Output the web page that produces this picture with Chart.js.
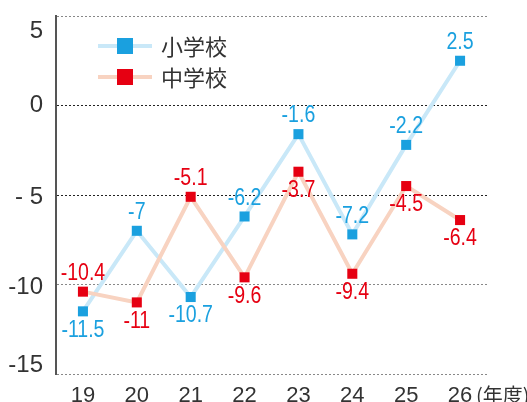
<!DOCTYPE html>
<html>
<head>
<meta charset="utf-8">
<script src="https://cdn.jsdelivr.net/npm/chart.js@4"></script>
<style>
  html, body { margin: 0; padding: 0; background: #fff; }
  #wrap { width: 527px; height: 402px; }
</style>
</head>
<body>
<div id="wrap"><canvas id="chart"></canvas></div>
<script>
const years = ["19", "20", "21", "22", "23", "24", "25", "26"];
const elementary = [-11.5, -7, -10.7, -6.2, -1.6, -7.2, -2.2, 2.5];
const juniorHigh = [-10.4, -11, -5.1, -9.6, -3.7, -9.4, -4.5, -6.4];
const yTicks = [5, 0, -5, -10, -15];
const yTickLabels = ["5", "0", "- 5", "-10", "-15"];
const seriesNames = ["小学校", "中学校"];
const unitLabel = "(年度)";

const SANS = "'Liberation Sans', Arial, sans-serif";
const CJK = "'Noto Sans CJK JP', sans-serif";

const blueLine = '#c9e8f8', blueMark = '#1aa0df';
const redLine = '#f8d3c1', redMark = '#e60012';

// which side of the marker each value label sits on, per series name
const labelSide = {
    '小学校': ['below', 'above', 'below', 'above', 'above', 'above', 'above', 'above'],
    '中学校': ['above', 'below', 'above', 'below', 'below', 'below', 'below', 'below']
};
// vertical nudge of the y tick labels (the original isn't quite aligned)
const yLabelNudge = { 5: 15, 0: 0, '-5': 2, '-10': 3, '-15': -9 };

const ctx = document.getElementById('chart').getContext('2d');

// narrow text: the original uses a condensed face
function narrowText(c, txt, x, y, sx) {
    c.save();
    c.translate(x, y);
    c.scale(sx, 1);
    c.fillText(txt, 0, 0);
    c.restore();
}

const extras = {
    id: 'extras',
    afterDatasetsDraw(chart) {
        const c = chart.ctx;
        c.save();
        // value labels
        chart.data.datasets.forEach((ds, di) => {
            const meta = chart.getDatasetMeta(di);
            const sides = labelSide[ds.label];
            meta.data.forEach((pt, i) => {
                const dy = sides[i] === 'above' ? -18 : 19;
                c.font = '23px ' + SANS;
                c.fillStyle = ds.pointBackgroundColor;
                c.textAlign = 'center';
                c.textBaseline = 'middle';
                narrowText(c, String(ds.data[i]), pt.x, pt.y + dy, 0.85);
            });
        });
        // y tick labels
        const y = chart.scales.y;
        c.font = '24px ' + SANS;
        c.fillStyle = '#333';
        c.textAlign = 'right';
        c.textBaseline = 'middle';
        yTicks.forEach((t, i) => {
            c.fillText(yTickLabels[i], 43, y.getPixelForValue(t) + (yLabelNudge[t] || 0));
        });
        // unit
        c.font = '20px ' + CJK;
        c.textAlign = 'left';
        c.fillText(unitLabel, 476, 395);
        // legend
        const items = [[blueLine, blueMark], [redLine, redMark]];
        items.forEach(([ln, mk], i) => {
            const ly = 46 + i * 31;
            c.strokeStyle = ln;
            c.lineWidth = 4;
            c.beginPath();
            c.moveTo(98, ly);
            c.lineTo(152, ly);
            c.stroke();
            c.fillStyle = mk;
            c.fillRect(117, ly - 8, 16, 16);
            c.font = '22px ' + CJK;
            c.fillStyle = '#333';
            c.textAlign = 'left';
            c.textBaseline = 'middle';
            c.fillText(seriesNames[i], 161, ly + 1);
        });
        c.restore();
    }
};

new Chart(ctx, {
    type: 'line',
    data: {
        labels: years,
        datasets: [
            {
                label: seriesNames[1],
                data: juniorHigh,
                borderColor: redLine,
                borderWidth: 4,
                pointStyle: 'rect',
                pointRadius: 7.1,
                pointBackgroundColor: redMark,
                pointBorderWidth: 0,
                tension: 0,
            },
            {
                label: seriesNames[0],
                data: elementary,
                borderColor: blueLine,
                borderWidth: 4,
                pointStyle: 'rect',
                pointRadius: 7.1,
                pointBackgroundColor: blueMark,
                pointBorderWidth: 0,
                tension: 0,
            }
        ]
    },
    options: {
        responsive: true,
        maintainAspectRatio: false,
        animation: false,
        layout: { padding: { top: 16, right: 40, left: 0, bottom: 0 } },
        plugins: {
            legend: { display: false },
            tooltip: { enabled: false }
        },
        scales: {
            x: {
                offset: true,
                grid: { display: false },
                border: { display: false },
                ticks: {
                    color: '#333',
                    font: { family: SANS, size: 22 },
                    padding: 1,
                    maxRotation: 0
                },
                afterFit: (s) => { s.height = 28; }
            },
            y: {
                min: -15,
                max: 5,
                ticks: { stepSize: 5, display: false },
                grid: {
                    drawTicks: false,
                    color: (c) => (c.tick && (c.tick.value === 0 || c.tick.value === -5)) ? '#222' : '#888',
                    lineWidth: 1
                },
                border: { display: true, color: '#555', width: 2, dash: [2, 2] },
                afterFit: (s) => { s.width = 56; }
            }
        }
    },
    plugins: [extras]
});
</script>
</body>
</html>
